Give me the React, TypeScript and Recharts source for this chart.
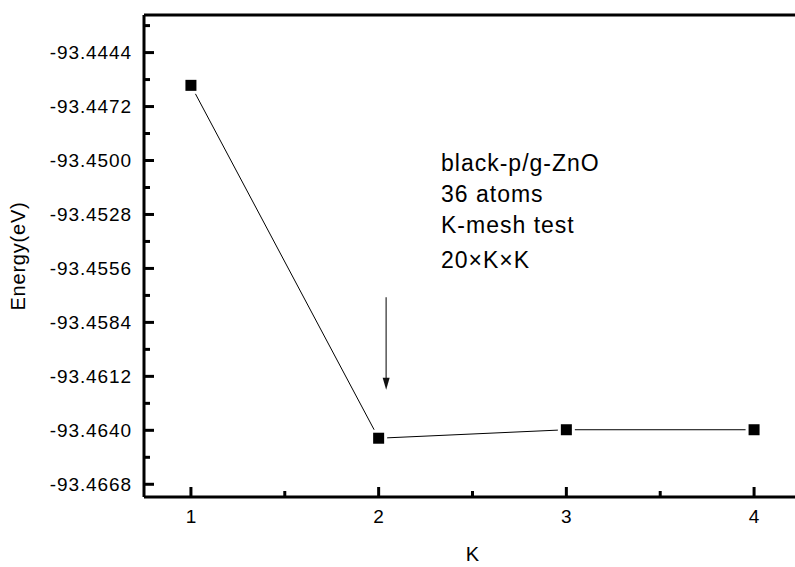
import React from 'react';
import { LineChart, Line, XAxis, YAxis, ReferenceLine } from 'recharts';

// K-mesh convergence test
const kValues = [1, 2, 3, 4];
const energies = [-93.4461, -93.46441, -93.46397, -93.46397];

const xMajorTicks = [1, 2, 3, 4];
const xMinorTicks = [1.5, 2.5, 3.5];
const yMajorTicks = [-93.4444, -93.4472, -93.45, -93.4528, -93.4556, -93.4584, -93.4612, -93.464, -93.4668];
const yMinorTicks = [-93.443, -93.4458, -93.4486, -93.4514, -93.4542, -93.457, -93.4598, -93.4626, -93.4654];

const noteLines = ['black-p/g-ZnO', '36 atoms', 'K-mesh test', '20\u00d7K\u00d7K'];

// arrow pointing at K = 2
const arrowX = 2.04;
const arrowFrom = -93.4571;
const arrowTo = -93.4619;

const X_MIN = 0.75;
const X_MAX = 4.25;
const Y_MIN = -93.46746;
const Y_MAX = -93.44245;

const AXIS_X = 144;
const AXIS_Y = 497;
const FONT = 'Arial, "Liberation Sans", sans-serif';

const data = kValues.map((k, i) => ({ k, energy: energies[i] }));

const isMajor = (list: number[], v: number) => list.some((m) => Math.abs(m - v) < 1e-7);

const YTick = ({ y, payload }: any) => {
  const major = isMajor(yMajorTicks, payload.value);
  return (
    <g>
      <line x1={AXIS_X} x2={AXIS_X + (major ? 10 : 6)} y1={y} y2={y} stroke="#000" strokeWidth={3} />
      {major && (
        <text x={132} y={y} textAnchor="end" dominantBaseline="central" fontSize={19} letterSpacing={0.9} fill="#000" fontFamily={FONT}>
          {payload.value.toFixed(4)}
        </text>
      )}
    </g>
  );
};

const XTick = ({ x, payload }: any) => {
  const major = isMajor(xMajorTicks, payload.value);
  return (
    <g>
      <line x1={x} x2={x} y1={AXIS_Y} y2={AXIS_Y - (major ? 10 : 6)} stroke="#000" strokeWidth={3} />
      {major && (
        <text x={x} y={516} textAnchor="middle" dominantBaseline="central" fontSize={19} fill="#000" fontFamily={FONT}>
          {payload.value}
        </text>
      )}
    </g>
  );
};

const SquareDot = ({ cx, cy }: any) => {
  if (cx == null || cy == null) return null;
  return (
    <g>
      <rect x={cx - 8.5} y={cy - 8.5} width={17} height={17} fill="#fff" />
      <rect x={cx - 5.5} y={cy - 5.5} width={11} height={11} fill="#000" />
    </g>
  );
};

const Arrow = (props: any) => {
  const { x1, y1, x2, y2 } = props;
  return (
    <g>
      <line x1={x1} y1={y1} x2={x2} y2={y2 - 10} stroke="#555" strokeWidth={1.5} />
      <polygon points={`${x2 - 3.5},${y2 - 12} ${x2 + 3.5},${y2 - 12} ${x2},${y2}`} fill="#111" />
    </g>
  );
};

export default function App() {
  return (
    <div style={{ position: 'absolute', left: 0, top: 0, width: 795, height: 567, overflow: 'hidden', background: '#fff', fontFamily: FONT }}>
      <LineChart width={810} height={567} data={data} margin={{ top: 15, right: 9, bottom: 0, left: 0 }}>
        <XAxis
          dataKey="k"
          type="number"
          domain={[X_MIN, X_MAX]}
          ticks={[...xMajorTicks, ...xMinorTicks]}
          allowDataOverflow
          height={70}
          axisLine={{ stroke: '#000', strokeWidth: 3 }}
          tickLine={false}
          tickSize={0}
          tick={<XTick />}
          interval={0}
          label={({ viewBox }: any) => (
            <text x={viewBox.x + viewBox.width / 2} y={561} textAnchor="middle" fontSize={20} fill="#000" fontFamily={FONT}>
              K
            </text>
          )}
        />
        <YAxis
          type="number"
          domain={[Y_MIN, Y_MAX]}
          ticks={[...yMajorTicks, ...yMinorTicks]}
          allowDataOverflow
          width={144}
          axisLine={{ stroke: '#000', strokeWidth: 3 }}
          tickLine={false}
          tickSize={0}
          tick={<YTick />}
          interval={0}
          label={({ viewBox }: any) => (
            <text
              x={25}
              y={viewBox.y + viewBox.height / 2}
              transform={`rotate(-90, 25, ${viewBox.y + viewBox.height / 2})`}
              textAnchor="middle"
              fontSize={20}
              letterSpacing={0.8}
              fill="#000"
              fontFamily={FONT}
            >
              Energy(eV)
            </text>
          )}
        />
        <ReferenceLine y={Y_MAX} stroke="#000" strokeWidth={3} ifOverflow="visible" />
        <ReferenceLine x={X_MAX} stroke="#000" strokeWidth={3} ifOverflow="visible" />
        <ReferenceLine
          segment={[{ x: arrowX, y: arrowFrom }, { x: arrowX, y: arrowTo }]}
          shape={<Arrow />}
          ifOverflow="visible"
        />
        <Line
          dataKey="energy"
          stroke="#000"
          strokeWidth={1}
          dot={<SquareDot />}
          activeDot={false}
          isAnimationActive={false}
        />
      </LineChart>
      {noteLines.map((t, i) => (
        <div
          key={t}
          style={{
            position: 'absolute',
            left: 441,
            top: [171, 202, 233, 268][i] - 19,
            fontSize: 23,
            lineHeight: 1,
            letterSpacing: 1,
            color: '#000',
            whiteSpace: 'nowrap',
          }}
        >
          {t}
        </div>
      ))}
    </div>
  );
}
